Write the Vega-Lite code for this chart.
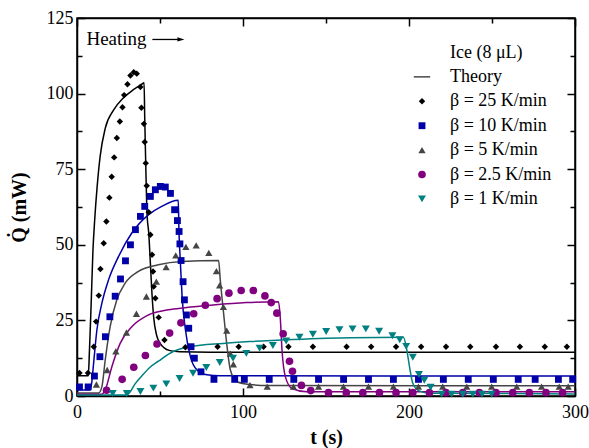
{
  "$schema": "https://vega.github.io/schema/vega-lite/v6.json",
  "width": 498,
  "height": 378,
  "autosize": "none",
  "padding": {"left": 77, "top": 18, "right": 14, "bottom": 52},
  "background": "white",
  "config": {
    "view": {"stroke": "black", "strokeWidth": 1.5},
    "font": "Liberation Serif",
    "axis": {"domainColor": "black", "domainWidth": 1.5, "tickColor": "black", "tickWidth": 1.5, "grid": false, "labelFont": "Liberation Serif", "labelFontSize": 18, "labelColor": "black", "titleFont": "Liberation Serif", "titleFontSize": 20, "titleFontWeight": "bold", "titleColor": "black"}
  },
  "datasets": {
    "theory": [
      {"s":"25","t":0,"q":6.7},{"s":"25","t":6.8,"q":6.7},{"s":"25","t":7.5,"q":15},{"s":"25","t":8.5,"q":30},{"s":"25","t":9.6,"q":48},{"s":"25","t":10.7,"q":58.6},{"s":"25","t":12.1,"q":69},{"s":"25","t":14,"q":79.5},{"s":"25","t":17,"q":88.5},{"s":"25","t":22,"q":94.5},{"s":"25","t":28,"q":98.6},{"s":"25","t":34,"q":101.3},{"s":"25","t":39,"q":103.1},{"s":"25","t":40.4,"q":103.6},{"s":"25","t":40.8,"q":92},{"s":"25","t":41.4,"q":77},{"s":"25","t":42.2,"q":60},{"s":"25","t":43.2,"q":54},{"s":"25","t":44.2,"q":44},{"s":"25","t":45.2,"q":33.5},{"s":"25","t":46.2,"q":26},{"s":"25","t":48,"q":20},{"s":"25","t":50,"q":17.5},{"s":"25","t":52.5,"q":15.9},{"s":"25","t":56,"q":15},{"s":"25","t":62,"q":14.6},{"s":"25","t":80,"q":14.5},{"s":"25","t":300,"q":14.5},
      {"s":"10","t":0,"q":2},{"s":"10","t":8,"q":2},{"s":"10","t":9,"q":5},{"s":"10","t":10,"q":10.8},{"s":"10","t":12,"q":21.9},{"s":"10","t":15,"q":30.7},{"s":"10","t":19,"q":38.4},{"s":"10","t":25,"q":46.1},{"s":"10","t":33,"q":53.9},{"s":"10","t":43,"q":59.9},{"s":"10","t":51,"q":62.7},{"s":"10","t":61,"q":64.7},{"s":"10","t":61.4,"q":55},{"s":"10","t":62.3,"q":44},{"s":"10","t":63.3,"q":33},{"s":"10","t":65.3,"q":22},{"s":"10","t":68.3,"q":13},{"s":"10","t":72.3,"q":8.6},{"s":"10","t":78.3,"q":7},{"s":"10","t":86,"q":6.7},{"s":"10","t":300,"q":6.6},
      {"s":"5","t":0,"q":1},{"s":"5","t":13,"q":1},{"s":"5","t":15,"q":3.1},{"s":"5","t":17,"q":11.9},{"s":"5","t":20,"q":23},{"s":"5","t":24,"q":31.8},{"s":"5","t":29,"q":37.3},{"s":"5","t":37,"q":41.2},{"s":"5","t":49,"q":43.4},{"s":"5","t":63,"q":44.5},{"s":"5","t":85.3,"q":44.8},{"s":"5","t":86.3,"q":38.4},{"s":"5","t":88.3,"q":27.4},{"s":"5","t":90.4,"q":16.3},{"s":"5","t":92.4,"q":8.6},{"s":"5","t":96.4,"q":4.7},{"s":"5","t":104,"q":3.8},{"s":"5","t":115,"q":3.5},{"s":"5","t":300,"q":3.4},
      {"s":"2.5","t":0,"q":0.6},{"s":"2.5","t":15,"q":0.6},{"s":"2.5","t":17,"q":2},{"s":"2.5","t":21,"q":9.7},{"s":"2.5","t":26,"q":17.4},{"s":"2.5","t":33,"q":22.9},{"s":"2.5","t":43,"q":26.8},{"s":"2.5","t":55,"q":28.5},{"s":"2.5","t":65,"q":29.2},{"s":"2.5","t":82,"q":30.1},{"s":"2.5","t":102,"q":30.9},{"s":"2.5","t":121.4,"q":31.2},{"s":"2.5","t":122.4,"q":26.3},{"s":"2.5","t":123.5,"q":15.2},{"s":"2.5","t":125.5,"q":6.4},{"s":"2.5","t":129.5,"q":2.5},{"s":"2.5","t":138.5,"q":1.4},{"s":"2.5","t":300,"q":1.4},
      {"s":"1","t":0,"q":0.3},{"s":"1","t":30,"q":0.3},{"s":"1","t":31.5,"q":1},{"s":"1","t":35,"q":4},{"s":"1","t":39,"q":6.6},{"s":"1","t":44,"q":9.5},{"s":"1","t":49,"q":11.5},{"s":"1","t":58,"q":14.7},{"s":"1","t":68,"q":16.3},{"s":"1","t":88,"q":17.4},{"s":"1","t":104,"q":18},{"s":"1","t":130,"q":18.7},{"s":"1","t":165,"q":19.3},{"s":"1","t":196.6,"q":19.4},{"s":"1","t":198.7,"q":15.2},{"s":"1","t":200.3,"q":9.7},{"s":"1","t":202.3,"q":4.2},{"s":"1","t":205.7,"q":1.8},{"s":"1","t":212.7,"q":0.9},{"s":"1","t":300,"q":0.7}
    ],
    "pts": [
      {"s":"β = 25 K/min","t":1.5,"q":7.6},{"s":"β = 25 K/min","t":6.6,"q":7.6},{"s":"β = 25 K/min","t":10.1,"q":16.3},{"s":"β = 25 K/min","t":11.5,"q":24.6},{"s":"β = 25 K/min","t":13.1,"q":33.2},{"s":"β = 25 K/min","t":14.1,"q":42},{"s":"β = 25 K/min","t":16.1,"q":50.5},{"s":"β = 25 K/min","t":17.7,"q":57.7},{"s":"β = 25 K/min","t":19.5,"q":65.6},{"s":"β = 25 K/min","t":20.9,"q":72.5},{"s":"β = 25 K/min","t":22.4,"q":78.9},{"s":"β = 25 K/min","t":24,"q":85.3},{"s":"β = 25 K/min","t":25.8,"q":90.8},{"s":"β = 25 K/min","t":27.4,"q":95.5},{"s":"β = 25 K/min","t":28.4,"q":99.5},{"s":"β = 25 K/min","t":30.4,"q":103.1},{"s":"β = 25 K/min","t":32.2,"q":106},{"s":"β = 25 K/min","t":34.2,"q":107.1},{"s":"β = 25 K/min","t":36,"q":106.6},{"s":"β = 25 K/min","t":38.2,"q":102.2},{"s":"β = 25 K/min","t":38.8,"q":95.3},{"s":"β = 25 K/min","t":40.3,"q":90},{"s":"β = 25 K/min","t":40.8,"q":84},{"s":"β = 25 K/min","t":41.4,"q":77},{"s":"β = 25 K/min","t":42,"q":69.5},{"s":"β = 25 K/min","t":43.2,"q":60.8},{"s":"β = 25 K/min","t":44.2,"q":53.3},{"s":"β = 25 K/min","t":45.2,"q":46.7},{"s":"β = 25 K/min","t":45.8,"q":41.2},{"s":"β = 25 K/min","t":46.2,"q":36.2},{"s":"β = 25 K/min","t":47.2,"q":32.3},{"s":"β = 25 K/min","t":49.2,"q":26},{"s":"β = 25 K/min","t":52.7,"q":18.5},{"s":"β = 25 K/min","t":65.3,"q":16.1},{"s":"β = 25 K/min","t":84.7,"q":16.3},{"s":"β = 25 K/min","t":97.4,"q":16.3},{"s":"β = 25 K/min","t":112.4,"q":16.3},{"s":"β = 25 K/min","t":127.4,"q":16.3},{"s":"β = 25 K/min","t":142.1,"q":16.3},{"s":"β = 25 K/min","t":162.4,"q":16.3},{"s":"β = 25 K/min","t":177.2,"q":16.3},{"s":"β = 25 K/min","t":192.2,"q":16.3},{"s":"β = 25 K/min","t":207.3,"q":16.3},{"s":"β = 25 K/min","t":222.3,"q":16.3},{"s":"β = 25 K/min","t":236.9,"q":16.3},{"s":"β = 25 K/min","t":252.4,"q":16.3},{"s":"β = 25 K/min","t":266.8,"q":16.3},{"s":"β = 25 K/min","t":281.8,"q":16.3},{"s":"β = 25 K/min","t":295.1,"q":16.3},
      {"s":"β = 10 K/min","t":1.5,"q":3},{"s":"β = 10 K/min","t":6.7,"q":3},{"s":"β = 10 K/min","t":10.5,"q":6.6},{"s":"β = 10 K/min","t":13.8,"q":13},{"s":"β = 10 K/min","t":17.1,"q":19.6},{"s":"β = 10 K/min","t":19.8,"q":26.2},{"s":"β = 10 K/min","t":23,"q":33},{"s":"β = 10 K/min","t":26.2,"q":38.7},{"s":"β = 10 K/min","t":29.2,"q":44.7},{"s":"β = 10 K/min","t":32.2,"q":50},{"s":"β = 10 K/min","t":35.2,"q":55},{"s":"β = 10 K/min","t":38.2,"q":59.4},{"s":"β = 10 K/min","t":40.8,"q":62.7},{"s":"β = 10 K/min","t":44.2,"q":66},{"s":"β = 10 K/min","t":47.2,"q":68.2},{"s":"β = 10 K/min","t":50.2,"q":69.3},{"s":"β = 10 K/min","t":53.2,"q":69.1},{"s":"β = 10 K/min","t":56.3,"q":67},{"s":"β = 10 K/min","t":58.8,"q":61.6},{"s":"β = 10 K/min","t":60.5,"q":58},{"s":"β = 10 K/min","t":61.5,"q":54.4},{"s":"β = 10 K/min","t":62,"q":50.3},{"s":"β = 10 K/min","t":62.7,"q":44.8},{"s":"β = 10 K/min","t":63.9,"q":37.8},{"s":"β = 10 K/min","t":64.7,"q":31.8},{"s":"β = 10 K/min","t":65.9,"q":26.8},{"s":"β = 10 K/min","t":67.3,"q":22.4},{"s":"β = 10 K/min","t":68.7,"q":16.3},{"s":"β = 10 K/min","t":70.7,"q":12.5},{"s":"β = 10 K/min","t":74.7,"q":8},{"s":"β = 10 K/min","t":82.5,"q":5.5},{"s":"β = 10 K/min","t":95,"q":5.5},{"s":"β = 10 K/min","t":100.8,"q":5.5},{"s":"β = 10 K/min","t":115.8,"q":5.5},{"s":"β = 10 K/min","t":130.6,"q":5.5},{"s":"β = 10 K/min","t":145.5,"q":5.5},{"s":"β = 10 K/min","t":160.6,"q":5.5},{"s":"β = 10 K/min","t":175.6,"q":5.5},{"s":"β = 10 K/min","t":190.6,"q":5.5},{"s":"β = 10 K/min","t":205.7,"q":5.5},{"s":"β = 10 K/min","t":220.7,"q":5.5},{"s":"β = 10 K/min","t":235.7,"q":5.5},{"s":"β = 10 K/min","t":250.8,"q":5.5},{"s":"β = 10 K/min","t":265.8,"q":5.5},{"s":"β = 10 K/min","t":276,"q":5.5},{"s":"β = 10 K/min","t":290,"q":5.5},{"s":"β = 10 K/min","t":298.6,"q":5.5},
      {"s":"β = 5 K/min","t":11.7,"q":3.8},{"s":"β = 5 K/min","t":18.2,"q":8.6},{"s":"β = 5 K/min","t":23.4,"q":14.8},{"s":"β = 5 K/min","t":29.8,"q":21},{"s":"β = 5 K/min","t":35.8,"q":27.2},{"s":"β = 5 K/min","t":41.8,"q":32.9},{"s":"β = 5 K/min","t":47.8,"q":37.8},{"s":"β = 5 K/min","t":53.7,"q":42.6},{"s":"β = 5 K/min","t":59.5,"q":46.5},{"s":"β = 5 K/min","t":65.6,"q":49.3},{"s":"β = 5 K/min","t":71.8,"q":49.8},{"s":"β = 5 K/min","t":79.4,"q":47.3},{"s":"β = 5 K/min","t":84,"q":41.3},{"s":"β = 5 K/min","t":85.9,"q":36.6},{"s":"β = 5 K/min","t":88.2,"q":29.5},{"s":"β = 5 K/min","t":90.2,"q":21.6},{"s":"β = 5 K/min","t":92.4,"q":14},{"s":"β = 5 K/min","t":94.2,"q":10.5},{"s":"β = 5 K/min","t":104.2,"q":3.6},{"s":"β = 5 K/min","t":114.6,"q":3.1},{"s":"β = 5 K/min","t":130.4,"q":3.1},{"s":"β = 5 K/min","t":145.5,"q":3.1},{"s":"β = 5 K/min","t":160.5,"q":3.1},{"s":"β = 5 K/min","t":175.6,"q":3.1},{"s":"β = 5 K/min","t":190.6,"q":3.1},{"s":"β = 5 K/min","t":205.7,"q":3.1},{"s":"β = 5 K/min","t":220.3,"q":3.1},{"s":"β = 5 K/min","t":234.8,"q":3.1},{"s":"β = 5 K/min","t":249.8,"q":3.1},{"s":"β = 5 K/min","t":264.9,"q":3.1},{"s":"β = 5 K/min","t":279.9,"q":3.1},{"s":"β = 5 K/min","t":290.5,"q":3.1},{"s":"β = 5 K/min","t":295.9,"q":3.1},
      {"s":"β = 2.5 K/min","t":17.8,"q":1.9},{"s":"β = 2.5 K/min","t":27.2,"q":5.5},{"s":"β = 2.5 K/min","t":34.2,"q":9.5},{"s":"β = 2.5 K/min","t":41.2,"q":13.4},{"s":"β = 2.5 K/min","t":48.2,"q":17.2},{"s":"β = 2.5 K/min","t":55.8,"q":20.8},{"s":"β = 2.5 K/min","t":62.6,"q":24.2},{"s":"β = 2.5 K/min","t":70.3,"q":27.2},{"s":"β = 2.5 K/min","t":77.3,"q":30},{"s":"β = 2.5 K/min","t":84.4,"q":32.2},{"s":"β = 2.5 K/min","t":91.5,"q":34},{"s":"β = 2.5 K/min","t":98.9,"q":34.9},{"s":"β = 2.5 K/min","t":106.2,"q":34.9},{"s":"β = 2.5 K/min","t":113.2,"q":33.1},{"s":"β = 2.5 K/min","t":117,"q":30.9},{"s":"β = 2.5 K/min","t":120.4,"q":27.4},{"s":"β = 2.5 K/min","t":124.2,"q":20.6},{"s":"β = 2.5 K/min","t":128,"q":11.5},{"s":"β = 2.5 K/min","t":129.8,"q":8.2},{"s":"β = 2.5 K/min","t":135.2,"q":3.5},{"s":"β = 2.5 K/min","t":140.8,"q":1.8},{"s":"β = 2.5 K/min","t":151.5,"q":1.1},{"s":"β = 2.5 K/min","t":162.2,"q":1.1},{"s":"β = 2.5 K/min","t":172.2,"q":1.1},{"s":"β = 2.5 K/min","t":182.2,"q":1.1},{"s":"β = 2.5 K/min","t":192.2,"q":1.1},{"s":"β = 2.5 K/min","t":202.3,"q":1.1},{"s":"β = 2.5 K/min","t":212.3,"q":1.1},{"s":"β = 2.5 K/min","t":222.3,"q":1.1},{"s":"β = 2.5 K/min","t":232.4,"q":1.1},{"s":"β = 2.5 K/min","t":242.4,"q":1.1},{"s":"β = 2.5 K/min","t":252.4,"q":1.1},{"s":"β = 2.5 K/min","t":262.5,"q":1.1},{"s":"β = 2.5 K/min","t":272.5,"q":1.1},{"s":"β = 2.5 K/min","t":282.5,"q":1.1},{"s":"β = 2.5 K/min","t":292.5,"q":1.1},
      {"s":"β = 1 K/min","t":21.5,"q":0.8},{"s":"β = 1 K/min","t":30,"q":0.8},{"s":"β = 1 K/min","t":38.2,"q":1.5},{"s":"β = 1 K/min","t":46,"q":2.6},{"s":"β = 1 K/min","t":53.8,"q":4},{"s":"β = 1 K/min","t":61.8,"q":5.8},{"s":"β = 1 K/min","t":69.9,"q":7.5},{"s":"β = 1 K/min","t":77.9,"q":9.4},{"s":"β = 1 K/min","t":86,"q":11.1},{"s":"β = 1 K/min","t":94,"q":12.5},{"s":"β = 1 K/min","t":102,"q":14.1},{"s":"β = 1 K/min","t":110,"q":15.8},{"s":"β = 1 K/min","t":118,"q":16.7},{"s":"β = 1 K/min","t":126,"q":18.2},{"s":"β = 1 K/min","t":134,"q":19.4},{"s":"β = 1 K/min","t":142.1,"q":20.4},{"s":"β = 1 K/min","t":150.1,"q":21.3},{"s":"β = 1 K/min","t":158.1,"q":21.9},{"s":"β = 1 K/min","t":166,"q":22.2},{"s":"β = 1 K/min","t":174,"q":22.2},{"s":"β = 1 K/min","t":182,"q":21.4},{"s":"β = 1 K/min","t":190,"q":19.9},{"s":"β = 1 K/min","t":194.4,"q":18.6},{"s":"β = 1 K/min","t":198.3,"q":16.4},{"s":"β = 1 K/min","t":202.3,"q":12.8},{"s":"β = 1 K/min","t":206,"q":7.1},{"s":"β = 1 K/min","t":209.2,"q":5.2},{"s":"β = 1 K/min","t":213,"q":2.9},{"s":"β = 1 K/min","t":219.7,"q":0.6},{"s":"β = 1 K/min","t":225.7,"q":0.6},{"s":"β = 1 K/min","t":232.4,"q":0.6},{"s":"β = 1 K/min","t":238.4,"q":0.6},{"s":"β = 1 K/min","t":244,"q":0.6},{"s":"β = 1 K/min","t":249.8,"q":0.6}
    ],
    "label": [{"t": 5.7, "q": 117.9, "text": "Heating"}],
    "arrow": [{"t": 45.4, "t2": 62, "q": 117.9}],
    "head": [{"t": 62.6, "q": 117.9}]
  },
  "resolve": {"axis": {"x": "independent", "y": "independent"}},
  "layer": [
    {
      "data": {"name": "theory"},
      "mark": {"type": "line", "strokeWidth": 1.5, "interpolate": "monotone", "clip": true},
      "encoding": {
        "x": {"field": "t", "type": "quantitative", "scale": {"domain": [0, 300], "nice": false, "zero": false},
              "axis": {"orient": "bottom", "values": [0, 100, 200, 300], "tickSize": -8, "labelPadding": 15, "title": "t (s)", "titlePadding": 6, "labelFlush": false}},
        "y": {"field": "q", "type": "quantitative", "scale": {"domain": [0, 125], "nice": false},
              "axis": {"orient": "left", "values": [0, 25, 50, 75, 100, 125], "tickSize": -8, "labelPadding": 12, "title": "Q\u0307 (mW)", "titlePadding": 17}},
        "detail": {"field": "s"},
        "stroke": {"field": "s", "type": "nominal", "legend": null,
                   "scale": {"domain": ["25", "10", "5", "2.5", "1"], "range": ["#000000", "#0000a8", "#454545", "#800080", "#008080"]}}
      }
    },
    {
      "data": {"name": "pts"},
      "mark": {"type": "point", "filled": true, "opacity": 1},
      "encoding": {
        "x": {"field": "t", "type": "quantitative", "scale": {"domain": [0, 300], "nice": false, "zero": false},
              "axis": {"orient": "top", "values": [0, 100, 200, 300], "tickSize": -8, "labels": false, "title": null}},
        "y": {"field": "q", "type": "quantitative", "scale": {"domain": [0, 125], "nice": false},
              "axis": {"orient": "right", "values": [0, 25, 50, 75, 100, 125], "tickSize": -8, "labels": false, "title": null}},
        "color": {"field": "s", "type": "nominal",
                  "scale": {"domain": ["Ice (8 μL)", "Theory", "β = 25 K/min", "β = 10 K/min", "β = 5 K/min", "β = 2.5 K/min", "β = 1 K/min"],
                            "range": ["rgba(0,0,0,0)", "#000000", "#000000", "#0000a8", "#454545", "#800080", "#008080"]},
                  "legend": {"orient": "none", "legendX": 336, "legendY": 25.5, "title": null, "labelFont": "Liberation Serif", "labelFontSize": 18, "labelColor": "black", "labelOffset": 19, "rowPadding": 6.4, "labelLimit": 200,
                             "encode": {"symbols": {"size": {"value": 70}}}}},
        "shape": {"field": "s", "type": "nominal",
                  "scale": {"domain": ["Ice (8 μL)", "Theory", "β = 25 K/min", "β = 10 K/min", "β = 5 K/min", "β = 2.5 K/min", "β = 1 K/min"],
                            "range": ["circle", "M-2.75,-0.18L2.75,-0.18L2.75,0.18L-2.75,0.18Z", "diamond", "square", "triangle-up", "circle", "triangle-down"]}},
        "size": {"field": "s", "type": "nominal",
                 "scale": {"domain": ["Ice (8 μL)", "Theory", "β = 25 K/min", "β = 10 K/min", "β = 5 K/min", "β = 2.5 K/min", "β = 1 K/min"],
                           "range": [30, 64, 150, 80, 100, 90, 100]}}
      }
    },
    {
      "data": {"name": "label"},
      "mark": {"type": "text", "align": "left", "baseline": "middle", "font": "Liberation Serif", "fontSize": 19, "color": "black"},
      "encoding": {
        "x": {"field": "t", "type": "quantitative", "scale": {"domain": [0, 300], "nice": false, "zero": false},
              "axis": {"orient": "bottom", "values": [50, 150, 250], "tickSize": -5, "labels": false, "title": null, "domain": false}},
        "y": {"field": "q", "type": "quantitative", "scale": {"domain": [0, 125], "nice": false},
              "axis": {"orient": "left", "values": [12.5, 37.5, 62.5, 87.5, 112.5], "tickSize": -5, "labels": false, "title": null, "domain": false}},
        "text": {"field": "text"}
      }
    },
    {
      "data": {"name": "arrow"},
      "mark": {"type": "rule", "color": "black", "strokeWidth": 1.3},
      "encoding": {
        "x": {"field": "t", "type": "quantitative", "scale": {"domain": [0, 300], "nice": false, "zero": false},
              "axis": {"orient": "top", "values": [50, 150, 250], "tickSize": -5, "labels": false, "title": null, "domain": false}},
        "x2": {"field": "t2"},
        "y": {"field": "q", "type": "quantitative", "scale": {"domain": [0, 125], "nice": false},
              "axis": {"orient": "right", "values": [12.5, 37.5, 62.5, 87.5, 112.5], "tickSize": -5, "labels": false, "title": null, "domain": false}}
      }
    },
    {
      "data": {"name": "head"},
      "mark": {"type": "point", "filled": true, "opacity": 1, "color": "black", "shape": "M-1,-0.6L1,0L-1,0.6Z", "size": 49, "strokeWidth": 0},
      "encoding": {
        "x": {"field": "t", "type": "quantitative", "scale": {"domain": [0, 300], "nice": false, "zero": false}, "axis": null},
        "y": {"field": "q", "type": "quantitative", "scale": {"domain": [0, 125], "nice": false}, "axis": null}
      }
    }
  ]
}
